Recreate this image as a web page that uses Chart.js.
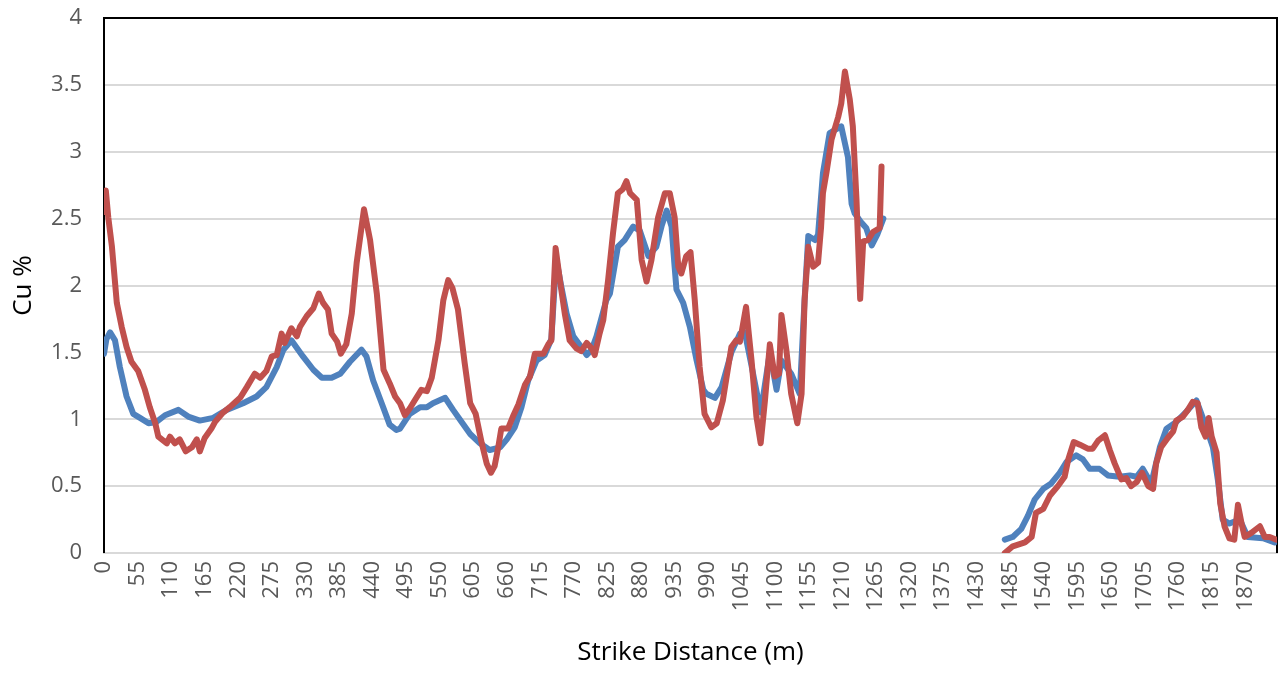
<!DOCTYPE html>
<html>
<head>
<meta charset="utf-8">
<title>Cu % vs Strike Distance</title>
<script src="https://cdn.jsdelivr.net/npm/chart.js@4.4.1/dist/chart.umd.min.js"></script>
<style>
  html, body { margin: 0; padding: 0; background: #ffffff; }
  #wrap { width: 1279px; height: 675px; }
</style>
</head>
<body>
<div id="wrap"><canvas id="chart" width="1279" height="675"></canvas></div>
<script>
// --- datos (distancia en m, Cu %) ---
// null = hueco entre los dos tramos
const redDist = [
  0, 3, 7, 13, 21, 29, 37, 45, 56, 67, 75, 84, 89, 103, 108, 116, 124, 134, 144, 152,
  157, 165, 176, 182, 195, 206, 223, 234, 247, 256, 266, 275, 283, 291, 296, 307, 316, 321, 332, 343,
  352, 359, 367, 373, 382, 388, 397, 406, 414, 426, 436, 447, 458, 468, 477, 485, 493, 501, 509, 520,
  529, 537, 548, 556, 564, 571, 580, 591, 600, 609, 619, 627, 634, 640, 646, 651, 662, 670, 679, 690,
  698, 706, 720, 728, 733, 736, 740, 747, 755, 763, 774, 782, 791, 799, 804, 812, 818, 826, 834, 842,
  850, 856, 862, 873, 881, 889, 897, 908, 919, 927, 935, 941, 946, 954, 961, 968, 976, 984, 995, 1004,
  1014, 1028, 1036, 1042, 1052, 1061, 1069, 1076, 1083, 1091, 1099, 1106, 1110, 1118, 1126, 1136, 1143, 1148, 1154, 1162,
  1170, 1175, 1178, 1184, 1192, 1203, 1208, 1214, 1222, 1227, 1233, 1239, 1244, 1252, 1260, 1271, 1274,
  1380,
  1476, 1489, 1509, 1520, 1527, 1539, 1550, 1563, 1574, 1580, 1589, 1599, 1612, 1620, 1629, 1640, 1648, 1656, 1667, 1675,
  1683, 1692, 1701, 1711, 1719, 1724, 1732, 1743, 1752, 1757, 1768, 1776, 1784, 1792, 1798, 1805, 1810, 1815, 1823, 1829,
  1836, 1844, 1852, 1858, 1864, 1869, 1880, 1894, 1902, 1910, 1921
];
const redCu = [
  2.55, 2.71, 2.51, 2.29, 1.87, 1.69, 1.54, 1.43, 1.36, 1.22, 1.09, 0.97, 0.87, 0.82, 0.87, 0.82, 0.85, 0.76, 0.79, 0.85,
  0.76, 0.86, 0.93, 0.98, 1.05, 1.09, 1.16, 1.24, 1.34, 1.31, 1.36, 1.47, 1.48, 1.64, 1.57, 1.68, 1.62, 1.69, 1.77, 1.83,
  1.94, 1.87, 1.82, 1.64, 1.58, 1.49, 1.56, 1.79, 2.17, 2.57, 2.34, 1.94, 1.37, 1.27, 1.17, 1.12, 1.03, 1.08, 1.14, 1.22,
  1.21, 1.31, 1.59, 1.89, 2.04, 1.98, 1.82, 1.42, 1.12, 1.04, 0.82, 0.67, 0.60, 0.65, 0.79, 0.93, 0.93, 1.02, 1.11, 1.26,
  1.32, 1.49, 1.49, 1.56, 1.59, 1.89, 2.28, 2.04, 1.79, 1.59, 1.53, 1.51, 1.57, 1.53, 1.48, 1.64, 1.74, 2.04, 2.39, 2.69,
  2.72, 2.78, 2.69, 2.64, 2.19, 2.03, 2.19, 2.51, 2.69, 2.69, 2.51, 2.14, 2.09, 2.22, 2.25, 1.89, 1.39, 1.04, 0.94, 0.97,
  1.14, 1.54, 1.59, 1.58, 1.84, 1.44, 1.02, 0.82, 1.14, 1.56, 1.32, 1.34, 1.78, 1.52, 1.19, 0.97, 1.19, 1.89, 2.29, 2.14,
  2.17, 2.44, 2.69, 2.85, 3.09, 3.26, 3.36, 3.60, 3.39, 3.19, 2.64, 1.90, 2.33, 2.34, 2.40, 2.43, 2.89,
  null,
  0.00, 0.05, 0.08, 0.12, 0.30, 0.33, 0.43, 0.50, 0.57, 0.70, 0.83, 0.81, 0.78, 0.78, 0.84, 0.88, 0.77, 0.67, 0.55, 0.56,
  0.50, 0.53, 0.60, 0.50, 0.48, 0.67, 0.79, 0.86, 0.91, 0.99, 1.02, 1.07, 1.13, 1.12, 0.94, 0.87, 1.01, 0.87, 0.75, 0.37,
  0.20, 0.11, 0.10, 0.36, 0.22, 0.12, 0.15, 0.20, 0.12, 0.12, 0.10
];

const blueDist = [
  0, 4, 10, 18, 26, 37, 48, 59, 73, 86, 100, 122, 138, 157, 179, 201, 228, 250, 266, 283,
  294, 307, 326, 343, 357, 373, 387, 403, 422, 430, 441, 455, 468, 479, 485, 501, 518, 529, 539, 559,
  572, 586, 600, 616, 632, 649, 660, 673, 684, 695, 709, 722, 733, 741, 749, 758, 769, 782, 791, 799,
  807, 823, 829, 842, 853, 867, 878, 892, 905, 914, 922, 930, 935, 938, 949, 960, 971, 982, 987, 1001,
  1012, 1028, 1042, 1050, 1061, 1076, 1091, 1102, 1110, 1126, 1140, 1148, 1154, 1165, 1170, 1178, 1189, 1208, 1219, 1225,
  1230, 1241, 1249, 1258, 1267, 1277,
  1380,
  1476, 1489, 1503, 1514, 1525, 1539, 1552, 1566, 1577, 1593, 1604, 1615, 1631, 1645, 1664, 1681, 1692, 1702, 1716, 1730,
  1741, 1757, 1774, 1790, 1798, 1806, 1817, 1825, 1833, 1844, 1861, 1874, 1899, 1918
];
const blueCu = [
  1.49, 1.60, 1.65, 1.59, 1.39, 1.17, 1.04, 1.01, 0.97, 0.98, 1.03, 1.07, 1.02, 0.99, 1.01, 1.07, 1.12, 1.17, 1.24, 1.39,
  1.52, 1.59, 1.47, 1.37, 1.31, 1.31, 1.34, 1.43, 1.52, 1.47, 1.29, 1.12, 0.96, 0.92, 0.93, 1.04, 1.09, 1.09, 1.12, 1.16,
  1.07, 0.98, 0.89, 0.82, 0.77, 0.79, 0.85, 0.94, 1.09, 1.29, 1.44, 1.48, 1.60, 2.20, 2.00, 1.79, 1.62, 1.54, 1.48, 1.52,
  1.62, 1.89, 1.94, 2.29, 2.34, 2.44, 2.41, 2.22, 2.29, 2.45, 2.56, 2.44, 2.14, 1.97, 1.87, 1.69, 1.44, 1.22, 1.19, 1.16,
  1.24, 1.50, 1.64, 1.65, 1.40, 1.05, 1.50, 1.22, 1.44, 1.34, 1.19, 1.90, 2.37, 2.34, 2.38, 2.84, 3.14, 3.19, 2.96, 2.61,
  2.54, 2.47, 2.43, 2.30, 2.38, 2.50,
  null,
  0.10, 0.12, 0.18, 0.28, 0.40, 0.48, 0.52, 0.60, 0.68, 0.73, 0.70, 0.63, 0.63, 0.58, 0.57, 0.58, 0.57, 0.63, 0.52, 0.79,
  0.93, 0.98, 1.06, 1.14, 1.04, 0.94, 0.79, 0.55, 0.25, 0.22, 0.25, 0.12, 0.11, 0.08
];

// etiquetas del eje X (cada 55 m) y del eje Y
const xTickLabels = [
  0, 55, 110, 165, 220, 275, 330, 385, 440, 495, 550, 605, 660, 715, 770, 825, 880, 935,
  990, 1045, 1100, 1155, 1210, 1265, 1320, 1375, 1430, 1485, 1540, 1595, 1650, 1705, 1760, 1815, 1870
];
const yTickLabels = [0, 0.5, 1, 1.5, 2, 2.5, 3, 3.5, 4];

const X_MAX = 1922;

const toPoints = (xs, ys) => xs.map((x, i) => ({ x, y: ys[i] }));

// marco negro arriba / izquierda / derecha (el de abajo es gris)
const frame = {
  id: "frame",
  beforeDatasetsDraw(chart) {
    const { ctx, chartArea: a } = chart;
    ctx.save();
    ctx.strokeStyle = "#000000";
    ctx.lineWidth = 2;
    ctx.beginPath();
    ctx.moveTo(a.left, a.bottom);
    ctx.lineTo(a.left, a.top);
    ctx.lineTo(a.right, a.top);
    ctx.lineTo(a.right, a.bottom);
    ctx.stroke();
    ctx.restore();
  }
};

const TICK_FONT = { family: "'Open Sans', 'Liberation Sans', sans-serif", size: 22 };
const TITLE_FONT = { family: "'Open Sans', 'Liberation Sans', sans-serif", size: 26 };

new Chart(document.getElementById("chart"), {
  type: "line",
  data: {
    datasets: [
      {
        label: "Series2",
        data: toPoints(redDist, redCu),
        borderColor: "#c0504d",
        borderWidth: 6,
        pointRadius: 0,
        tension: 0,
        spanGaps: false,
        borderJoinStyle: "round",
        borderCapStyle: "round"
      },
      {
        label: "Series1",
        data: toPoints(blueDist, blueCu),
        borderColor: "#4f81bd",
        borderWidth: 6,
        pointRadius: 0,
        tension: 0,
        spanGaps: false,
        borderJoinStyle: "round",
        borderCapStyle: "round"
      }
    ]
  },
  options: {
    responsive: false,
    animation: false,
    layout: { padding: { left: 0, top: 18, right: 2, bottom: 0 } },
    plugins: {
      legend: { display: false },
      tooltip: { enabled: false }
    },
    scales: {
      x: {
        type: "linear",
        min: 0,
        max: X_MAX,
        afterBuildTicks: (axis) => { axis.ticks = xTickLabels.map(v => ({ value: v })); },
        afterFit: (scale) => {
          scale.height = 122;
          scale.paddingLeft = 0;
          scale.paddingRight = 0;
        },
        grid: { display: false, drawTicks: false },
        border: { display: true, color: "#d9d9d9", width: 2 },
        ticks: {
          autoSkip: false,
          minRotation: 90,
          maxRotation: 90,
          padding: 8,
          color: "#595959",
          font: TICK_FONT,
          callback: (v) => String(v)
        },
        title: {
          display: true,
          text: "Strike Distance (m)",
          color: "#000000",
          font: TITLE_FONT,
          padding: { top: 0, bottom: 7 }
        }
      },
      y: {
        min: 0,
        max: 4,
        afterBuildTicks: (axis) => { axis.ticks = yTickLabels.map(v => ({ value: v })); },
        afterFit: (scale) => {
          scale.width = 104;
          scale.paddingTop = 0;
          scale.paddingBottom = 0;
        },
        grid: { color: "#d9d9d9", lineWidth: 2, drawTicks: false },
        border: { display: false },
        ticks: {
          padding: 22,
          color: "#595959",
          font: TICK_FONT,
          callback: (v) => String(v)
        },
        title: {
          display: true,
          text: "Cu %",
          color: "#000000",
          font: TITLE_FONT,
          padding: { top: 8, bottom: 0 }
        }
      }
    }
  },
  plugins: [frame]
});
</script>
</body>
</html>
